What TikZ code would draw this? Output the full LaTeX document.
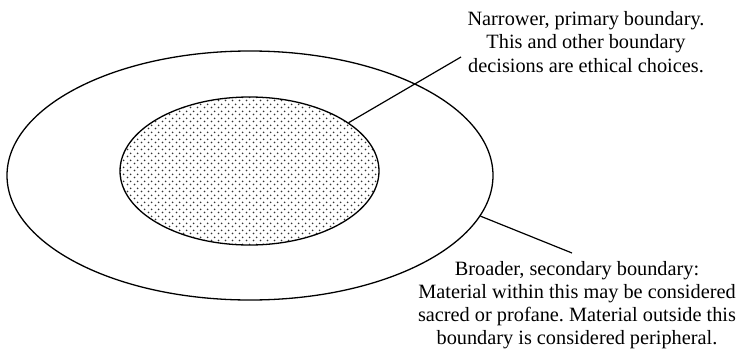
\documentclass[tikz,border=0pt]{standalone}
\usepackage{fontspec}
\setmainfont{Liberation Serif}
\usetikzlibrary{shapes.geometric,patterns.meta}
\tikzdeclarepattern{
  name=stipple,
  type=uncolored,
  bounding box={(0pt,0pt) and (7pt,7pt)},
  tile size={(7pt,7pt)},
  code={\fill (1.75pt,1.75pt) circle (1.05pt); \fill (5.25pt,5.25pt) circle (1.05pt);}
}
\frenchspacing
\begin{document}
\begin{tikzpicture}[x=1pt,y=-1pt,
  boundary/.style={ellipse, draw=black, line width=1.3pt, inner sep=0pt},
  leader/.style={draw=black, line width=1.2pt},
  caption/.style={align=center, inner sep=0pt, font=\fontsize{20.3}{23.6}\selectfont}]
\useasboundingbox (0,0) rectangle (740,354);
\node[boundary, minimum width=486pt, minimum height=249pt] (outer) at (250,175.5) {};
\node[boundary, minimum width=259pt, minimum height=148pt,
      pattern=stipple, pattern color=black!80] (inner) at (249.5,171) {};
\node[caption] (t1) at (586,42) {Narrower, primary boundary.\\This and other boundary\\decisions are ethical choices.};
\node[caption, font=\fontsize{20.3}{22.9}\selectfont] (t2) at (577,305) {Broader, secondary boundary:\\Material within this may be considered\\sacred or profane. Material outside this\\boundary is considered peripheral.};
\coordinate (c1) at (461,57);
\coordinate (c2) at (572,253);
\draw[leader] (inner.26.4) -- (c1);
\draw[leader] (outer.-10.6) -- (c2);
\end{tikzpicture}
\end{document}
